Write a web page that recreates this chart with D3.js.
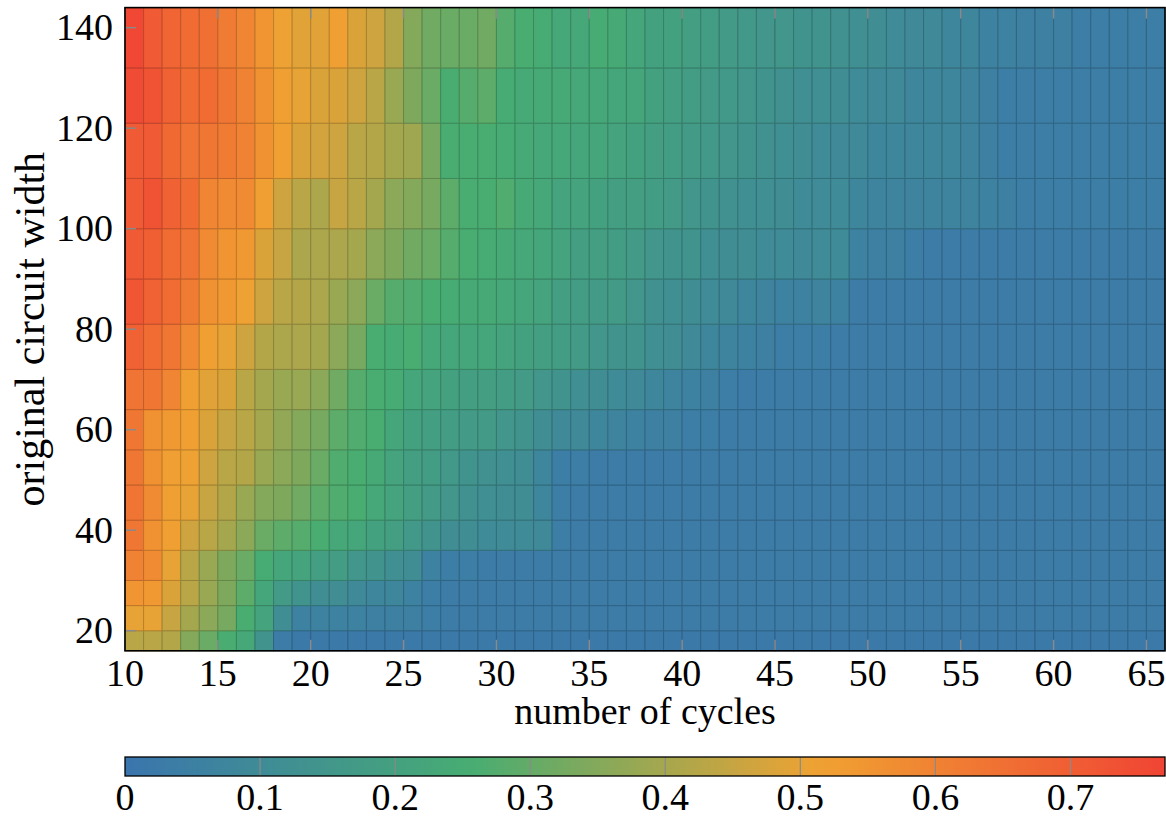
<!DOCTYPE html>
<html>
<head>
<meta charset="utf-8">
<script src="https://cdn.jsdelivr.net/npm/d3@7"></script>
<style>
  body { margin: 0; background: #fff; }
  svg { display: block; }
  text { font-family: "Liberation Serif", "Times New Roman", serif; fill: #000; }
</style>
</head>
<body>
<svg id="chart" width="1166" height="818"></svg>
<script>
// number of cycles (one column per cycle count, each spanning [c, c+1])
const cycles = [10,11,12,13,14,15,16,17,18,19,20,21,22,23,24,25,26,27,28,29,
                30,31,32,33,34,35,36,37,38,39,40,41,42,43,44,45,46,47,48,49,
                50,51,52,53,54,55,56,57,58,59,60,61,62,63,64,65];
// row boundaries along "original circuit width"
const widthEdges = [16,20,25,30,36,42,49,56,64,72,81,90,100,110,121,132,144];

const xTicks = [10,15,20,25,30,35,40,45,50,55,60,65];
const yTicks = [20,40,60,80,100,120,140];
const colorTicks = [0,0.1,0.2,0.3,0.4,0.5,0.6,0.7];
const colorTickLabels = ["0","0.1","0.2","0.3","0.4","0.5","0.6","0.7"];
const colorMin = 0, colorMax = 0.77;
const colorStops = ["#3a75ae", "#47ad72", "#f0a232", "#f04434"];

// one array per row, bottom row first; entries follow `cycles`
const w16 = [0.43,0.43,0.42,0.35,0.31,0.26,0.23,0.14,0.03,0.02,0.02,0.02,0.02,0.02,0.02,0.02,0.02,0.02,0.02,0.02,
             0.02,0.02,0.02,0.02,0.02,0.02,0.02,0.02,0.02,0.02,0.02,0.02,0.02,0.02,0.02,0.02,0.02,0.02,0.02,0.02,
             0.02,0.02,0.02,0.02,0.02,0.02,0.02,0.02,0.02,0.02,0.02,0.02,0.02,0.02,0.02,0.02];
const w20 = [0.50,0.50,0.45,0.40,0.36,0.33,0.26,0.21,0.11,0.06,0.06,0.06,0.06,0.05,0.05,0.05,0.04,0.03,0.03,0.03,
             0.03,0.03,0.03,0.03,0.03,0.03,0.03,0.03,0.03,0.03,0.03,0.03,0.03,0.03,0.03,0.03,0.03,0.03,0.03,0.03,
             0.03,0.03,0.03,0.03,0.03,0.03,0.03,0.03,0.03,0.03,0.03,0.03,0.03,0.03,0.03,0.03];
const w25 = [0.55,0.54,0.48,0.43,0.38,0.34,0.29,0.22,0.17,0.14,0.11,0.11,0.09,0.08,0.08,0.06,0.04,0.03,0.03,0.03,
             0.03,0.03,0.03,0.03,0.03,0.03,0.03,0.03,0.03,0.03,0.03,0.03,0.03,0.03,0.03,0.03,0.03,0.03,0.03,0.03,
             0.03,0.03,0.03,0.03,0.03,0.03,0.03,0.03,0.03,0.03,0.03,0.03,0.03,0.03,0.03,0.03];
const w30 = [0.60,0.58,0.50,0.43,0.38,0.34,0.31,0.25,0.22,0.21,0.19,0.18,0.15,0.14,0.12,0.11,0.06,0.04,0.04,0.03,
             0.03,0.03,0.03,0.03,0.03,0.03,0.03,0.03,0.03,0.03,0.03,0.03,0.03,0.03,0.03,0.03,0.03,0.03,0.03,0.03,
             0.03,0.03,0.03,0.03,0.03,0.03,0.03,0.03,0.03,0.03,0.03,0.03,0.03,0.03,0.03,0.03];
const w36 = [0.63,0.56,0.52,0.46,0.43,0.40,0.36,0.31,0.29,0.28,0.26,0.23,0.22,0.20,0.19,0.16,0.14,0.11,0.11,0.10,
             0.10,0.10,0.09,0.04,0.03,0.03,0.03,0.03,0.03,0.03,0.03,0.03,0.03,0.03,0.03,0.03,0.03,0.03,0.03,0.03,
             0.03,0.03,0.03,0.03,0.03,0.03,0.03,0.03,0.03,0.03,0.03,0.03,0.03,0.03,0.03,0.03];
const w42 = [0.64,0.58,0.52,0.50,0.45,0.42,0.38,0.35,0.34,0.32,0.29,0.27,0.26,0.23,0.21,0.19,0.17,0.15,0.13,0.12,
             0.11,0.11,0.08,0.04,0.03,0.03,0.03,0.03,0.03,0.03,0.03,0.03,0.03,0.03,0.03,0.03,0.03,0.03,0.03,0.03,
             0.03,0.03,0.03,0.03,0.03,0.03,0.03,0.03,0.03,0.03,0.03,0.03,0.03,0.03,0.03,0.03];
const w49 = [0.63,0.56,0.52,0.51,0.46,0.43,0.42,0.38,0.36,0.34,0.31,0.27,0.26,0.24,0.21,0.19,0.18,0.16,0.14,0.13,
             0.12,0.11,0.08,0.04,0.04,0.03,0.03,0.03,0.03,0.03,0.03,0.03,0.03,0.03,0.03,0.03,0.03,0.03,0.03,0.03,
             0.03,0.03,0.03,0.03,0.03,0.03,0.03,0.03,0.03,0.03,0.03,0.03,0.03,0.03,0.03,0.03];
const w56 = [0.63,0.56,0.54,0.52,0.48,0.45,0.43,0.40,0.37,0.35,0.33,0.29,0.27,0.26,0.22,0.20,0.19,0.18,0.17,0.17,
             0.15,0.14,0.11,0.09,0.09,0.08,0.07,0.06,0.05,0.05,0.04,0.04,0.03,0.03,0.03,0.03,0.03,0.03,0.03,0.03,
             0.03,0.03,0.03,0.03,0.03,0.03,0.03,0.03,0.03,0.03,0.03,0.03,0.03,0.03,0.03,0.03];
const w64 = [0.64,0.63,0.59,0.52,0.49,0.48,0.43,0.40,0.38,0.38,0.36,0.32,0.28,0.26,0.25,0.22,0.21,0.20,0.19,0.19,
             0.18,0.17,0.15,0.14,0.12,0.11,0.10,0.09,0.08,0.07,0.06,0.05,0.04,0.03,0.03,0.03,0.03,0.03,0.03,0.03,
             0.03,0.03,0.03,0.03,0.03,0.03,0.03,0.03,0.03,0.03,0.03,0.03,0.03,0.03,0.03,0.03];
const w72 = [0.69,0.66,0.63,0.58,0.52,0.50,0.46,0.42,0.41,0.41,0.40,0.36,0.33,0.26,0.25,0.26,0.23,0.22,0.22,0.22,
             0.21,0.20,0.19,0.18,0.17,0.15,0.14,0.14,0.12,0.11,0.09,0.08,0.07,0.06,0.05,0.04,0.04,0.04,0.03,0.03,
             0.03,0.03,0.03,0.03,0.03,0.03,0.03,0.03,0.03,0.03,0.03,0.03,0.03,0.03,0.03,0.03];
const w81 = [0.72,0.69,0.66,0.62,0.56,0.54,0.51,0.46,0.43,0.42,0.41,0.38,0.36,0.31,0.28,0.27,0.26,0.25,0.24,0.24,
             0.23,0.22,0.21,0.19,0.18,0.17,0.17,0.15,0.13,0.12,0.11,0.10,0.09,0.08,0.07,0.06,0.06,0.07,0.06,0.03,
             0.03,0.03,0.03,0.03,0.03,0.03,0.03,0.03,0.03,0.03,0.03,0.03,0.03,0.03,0.03,0.03];
const w90 = [0.71,0.70,0.66,0.64,0.58,0.55,0.54,0.48,0.45,0.41,0.41,0.41,0.40,0.36,0.34,0.32,0.31,0.28,0.26,0.25,
             0.24,0.23,0.22,0.21,0.19,0.19,0.18,0.17,0.15,0.14,0.14,0.12,0.11,0.11,0.10,0.10,0.09,0.10,0.10,0.06,
             0.05,0.05,0.04,0.03,0.03,0.03,0.03,0.03,0.03,0.03,0.03,0.03,0.03,0.03,0.03,0.03];
const w100 = [0.71,0.73,0.69,0.66,0.59,0.58,0.58,0.52,0.46,0.43,0.41,0.45,0.43,0.40,0.36,0.35,0.33,0.29,0.26,0.26,
              0.27,0.24,0.23,0.21,0.21,0.20,0.19,0.19,0.18,0.17,0.15,0.14,0.13,0.12,0.12,0.11,0.10,0.10,0.10,0.08,
              0.07,0.07,0.07,0.07,0.07,0.07,0.06,0.05,0.04,0.04,0.04,0.04,0.04,0.04,0.04,0.04];
const w110 = [0.71,0.71,0.67,0.64,0.63,0.62,0.60,0.56,0.52,0.48,0.47,0.46,0.43,0.42,0.40,0.39,0.33,0.26,0.26,0.26,
              0.25,0.24,0.23,0.23,0.22,0.22,0.21,0.20,0.19,0.18,0.17,0.16,0.15,0.14,0.13,0.12,0.11,0.10,0.09,0.09,
              0.08,0.08,0.08,0.08,0.08,0.07,0.05,0.04,0.04,0.04,0.04,0.04,0.04,0.04,0.04,0.04];
const w121 = [0.75,0.73,0.69,0.66,0.66,0.63,0.60,0.56,0.52,0.50,0.48,0.48,0.46,0.43,0.38,0.34,0.31,0.26,0.28,0.29,
              0.25,0.24,0.24,0.24,0.23,0.23,0.22,0.22,0.20,0.19,0.18,0.17,0.16,0.15,0.14,0.13,0.12,0.12,0.11,0.10,
              0.09,0.09,0.08,0.08,0.08,0.07,0.05,0.04,0.04,0.04,0.04,0.04,0.04,0.04,0.04,0.04];
const w132 = [0.76,0.71,0.68,0.66,0.65,0.62,0.59,0.55,0.51,0.49,0.49,0.52,0.48,0.46,0.42,0.35,0.32,0.31,0.31,0.32,
              0.28,0.26,0.25,0.23,0.23,0.25,0.24,0.22,0.20,0.20,0.19,0.18,0.17,0.16,0.15,0.15,0.14,0.14,0.13,0.12,
              0.11,0.10,0.09,0.09,0.08,0.08,0.06,0.06,0.05,0.05,0.05,0.04,0.04,0.04,0.04,0.04];

const rows = [w16, w20, w25, w30, w36, w42, w49, w56, w64, w72, w81, w90, w100, w110, w121, w132];

// ---- layout ----
const plot = { left: 125, right: 1165, top: 7.6, bottom: 650.8 };
const bar = { top: 757, bottom: 776 };
const fontSize = 38;
const yTitleSize = 42;
const tickLen = 11;
const tickColor = "#8a8a8a";

const svg = d3.select("#chart");

const x = d3.scaleLinear().domain([10, 66]).range([plot.left, plot.right]);
const y = d3.scaleLinear().domain([16, 144]).range([plot.bottom, plot.top]);

const colorDomain = colorStops.map((_, i) => colorMin + (colorMax - colorMin) * i / (colorStops.length - 1));
const color = d3.scaleLinear().domain(colorDomain).range(colorStops).interpolate(d3.interpolateRgb).clamp(true);
const edgeColor = v => d3.interpolateRgb(color(v), "#000")(0.2);

// ---- heat-map cells ----
const cells = [];
rows.forEach((row, i) => {
  row.forEach((v, j) => {
    cells.push({ c: cycles[j], lo: widthEdges[i], hi: widthEdges[i + 1], v });
  });
});

svg.append("g").attr("class", "cells")
  .selectAll("rect").data(cells).join("rect")
  .attr("x", d => x(d.c))
  .attr("y", d => y(d.hi))
  .attr("width", d => x(d.c + 1) - x(d.c))
  .attr("height", d => y(d.lo) - y(d.hi))
  .attr("fill", d => color(d.v))
  .attr("stroke", d => edgeColor(d.v))
  .attr("stroke-width", 1);

// ---- ticks (drawn inward) ----
const tickG = svg.append("g").attr("stroke", tickColor).attr("stroke-width", 1.5);
xTicks.forEach(t => {
  tickG.append("line").attr("x1", x(t)).attr("x2", x(t)).attr("y1", plot.bottom).attr("y2", plot.bottom - tickLen);
  tickG.append("line").attr("x1", x(t)).attr("x2", x(t)).attr("y1", plot.top).attr("y2", plot.top + tickLen);
});
yTicks.forEach(t => {
  tickG.append("line").attr("x1", plot.left).attr("x2", plot.left + tickLen).attr("y1", y(t)).attr("y2", y(t));
});

// frame
svg.append("rect")
  .attr("x", plot.left).attr("y", plot.top)
  .attr("width", plot.right - plot.left).attr("height", plot.bottom - plot.top)
  .attr("fill", "none").attr("stroke", "#000").attr("stroke-width", 1.6);

// ---- tick labels ----
svg.append("g").selectAll("text").data(xTicks).join("text")
  .attr("x", d => x(d)).attr("y", 686)
  .attr("text-anchor", "middle").attr("font-size", fontSize)
  .text(d => d);

svg.append("g").selectAll("text").data(yTicks).join("text")
  .attr("x", 113).attr("y", d => y(d) + 12.5)
  .attr("text-anchor", "end").attr("font-size", fontSize)
  .text(d => d);

// axis titles
svg.append("text")
  .attr("x", (plot.left + plot.right) / 2).attr("y", 724)
  .attr("text-anchor", "middle").attr("font-size", fontSize)
  .text("number of cycles");

svg.append("text")
  .attr("transform", `translate(44,${(plot.top + plot.bottom) / 2}) rotate(-90)`)
  .attr("text-anchor", "middle").attr("font-size", yTitleSize)
  .text("original circuit width");

// ---- colour bar ----
const cx = d3.scaleLinear().domain([colorMin, colorMax]).range([plot.left, plot.right]);
const defs = svg.append("defs");
const grad = defs.append("linearGradient").attr("id", "cbar")
  .attr("x1", "0%").attr("x2", "100%").attr("y1", "0%").attr("y2", "0%");
d3.range(0, 1.0001, 0.02).forEach(f => {
  grad.append("stop").attr("offset", `${f * 100}%`).attr("stop-color", color(colorMin + f * (colorMax - colorMin)));
});

svg.append("rect")
  .attr("x", plot.left).attr("y", bar.top)
  .attr("width", plot.right - plot.left).attr("height", bar.bottom - bar.top)
  .attr("fill", "url(#cbar)");

svg.append("g").attr("stroke", tickColor).attr("stroke-width", 1.2)
  .selectAll("line").data(colorTicks.filter(t => t > 0)).join("line")
  .attr("x1", d => cx(d)).attr("x2", d => cx(d))
  .attr("y1", bar.top).attr("y2", bar.bottom);

svg.append("rect")
  .attr("x", plot.left).attr("y", bar.top)
  .attr("width", plot.right - plot.left).attr("height", bar.bottom - bar.top)
  .attr("fill", "none").attr("stroke", "#000").attr("stroke-width", 1.3);

svg.append("g").selectAll("text").data(colorTicks).join("text")
  .attr("x", d => cx(d)).attr("y", 810)
  .attr("text-anchor", "middle").attr("font-size", fontSize)
  .text((d, i) => colorTickLabels[i]);
</script>
</body>
</html>
